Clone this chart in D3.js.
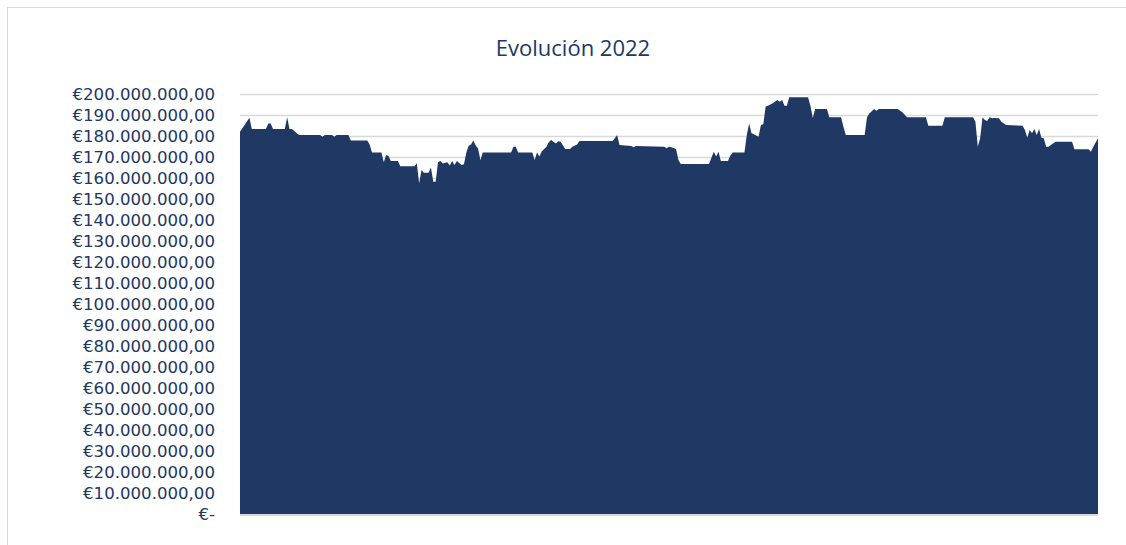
<!DOCTYPE html>
<html><head><meta charset="utf-8">
<script src="https://cdn.jsdelivr.net/npm/d3@7"></script>
<style>html,body{margin:0;padding:0;background:#fff;}svg{display:block;}</style>
</head><body>
<div id="chart"></div>
<script>
// Day of year 2022 (0 = 1 Jan) at which each value was read
const days = [0,4,5,11,12,13,14,19,20,21,22,25,34,35,36,39,40,41,46,47,54,55,56,60,61,62,63,64,67,68,
74,75,76,77,78,80,81,82,83,84,85,86,88,89,90,91,92,94,95,96,97,98,99,100,101,102,103,115,116,117,
118,124,125,126,127,128,130,131,132,134,135,136,138,140,141,143,144,158,159,160,161,166,167,168,180,181,182,183,185,186,
187,199,200,201,202,203,204,207,208,209,214,215,216,217,218,220,221,222,223,224,226,228,229,230,231,232,233,241,242,243,
244,249,250,255,256,257,265,266,267,269,270,271,279,281,283,291,292,298,299,311,312,313,314,315,316,317,318,319,320,322,
323,325,332,333,334,335,336,337,338,339,340,341,342,343,344,346,353,354,360,361,362,364];
// Value in millions of euros
const values = [182.0,188.7,183.3,183.3,186.0,186.0,183.3,183.3,188.9,183.3,183.3,180.5,180.5,179.6,180.5,180.5,179.6,180.5,180.5,177.8,177.8,176.0,172.1,172.1,167.5,171.0,170.5,168.1,168.1,165.6,
165.6,167.0,157.5,163.8,162.5,162.5,165.0,158.2,158.2,167.5,168.1,166.9,167.5,165.9,168.1,166.2,168.1,166.2,166.5,172.0,175.4,176.0,177.8,175.5,174.0,168.6,172.2,172.2,174.9,174.9,
172.2,172.2,168.6,172.2,170.2,172.6,174.9,177.0,178.1,176.4,177.5,177.3,173.8,173.8,174.9,176.0,177.6,177.6,178.9,180.5,175.7,175.2,174.6,175.2,174.9,174.2,174.9,174.6,173.8,168.6,
166.7,166.7,169.7,172.5,170.2,172.5,168.1,168.1,170.6,172.2,172.2,180.5,186.0,181.3,180.8,179.7,185.2,185.6,194.0,194.4,195.6,197.1,196.3,197.1,194.4,194.4,198.4,198.4,194.4,188.6,
192.9,192.9,188.9,188.9,184.4,180.5,180.5,188.9,190.7,192.9,192.0,192.9,192.9,191.3,188.9,188.9,184.9,184.9,188.9,188.9,186.8,174.9,178.9,188.9,187.6,187.1,188.9,188.4,188.6,188.4,
186.8,185.2,184.9,182.9,179.2,182.9,181.3,183.3,180.5,183.3,179.2,178.9,174.9,174.9,175.7,177.3,177.3,173.7,173.7,172.5,174.9,178.9];
const yTicks = [0,10,20,30,40,50,60,70,80,90,100,110,120,130,140,150,160,170,180,190,200];
const title = "Evolución 2022";

const W = 1126, H = 545;
const mLeft = 240, mRight = 1098, mTop = 94, mBottom = 514;
const svg = d3.select("#chart").append("svg").attr("width", W).attr("height", H);

// frame
svg.append("rect").attr("x", 7.5).attr("y", 7.5).attr("width", 1130).attr("height", 560)
  .attr("fill", "none").attr("stroke", "#d9d9d9").attr("stroke-width", 1);

const x = d3.scaleLinear().domain([0, 364]).range([mLeft, mRight]);
const y = d3.scaleLinear().domain([0, 200]).range([mBottom, mTop]);

const loc = d3.formatLocale({decimal: ",", thousands: ".", grouping: [3], currency: ["€", ""]});
const fmt = loc.format("$,.2f");

// gridlines
svg.append("g").selectAll("line").data(yTicks.filter(d => d > 0)).join("line")
  .attr("x1", mLeft).attr("x2", mRight)
  .attr("y1", d => Math.round(y(d)) + 0.5).attr("y2", d => Math.round(y(d)) + 0.5)
  .attr("stroke", "#d9d9d9").attr("stroke-width", 1.3);

// area
const pts = days.map((d, i) => [d, values[i]]);
svg.append("path").datum(pts)
  .attr("fill", "#203864")
  .attr("d", d3.area().x(d => x(d[0])).y0(y(0)).y1(d => y(d[1])));

// baseline
svg.append("line").attr("x1", mLeft).attr("x2", mRight).attr("y1", mBottom + 1).attr("y2", mBottom + 1)
  .attr("stroke", "#c9cdd6").attr("stroke-width", 1.5);

// y axis labels
const yAxis = d3.axisLeft(y).tickValues(yTicks).tickSize(0).tickPadding(0)
  .tickFormat(d => d === 0 ? "€-" : fmt(d * 1e6));
const ga = svg.append("g").attr("transform", `translate(215,0)`).call(yAxis);
ga.select(".domain").remove();
ga.selectAll("text").attr("font-family", "DejaVu Sans").attr("font-size", 16.6).attr("fill", "#203864");

// title
svg.append("text").attr("x", 573).attr("y", 56).attr("text-anchor", "middle")
  .attr("font-family", "Open Sans").attr("font-size", 22).attr("fill", "#203864").text(title);
</script>
</body></html>
